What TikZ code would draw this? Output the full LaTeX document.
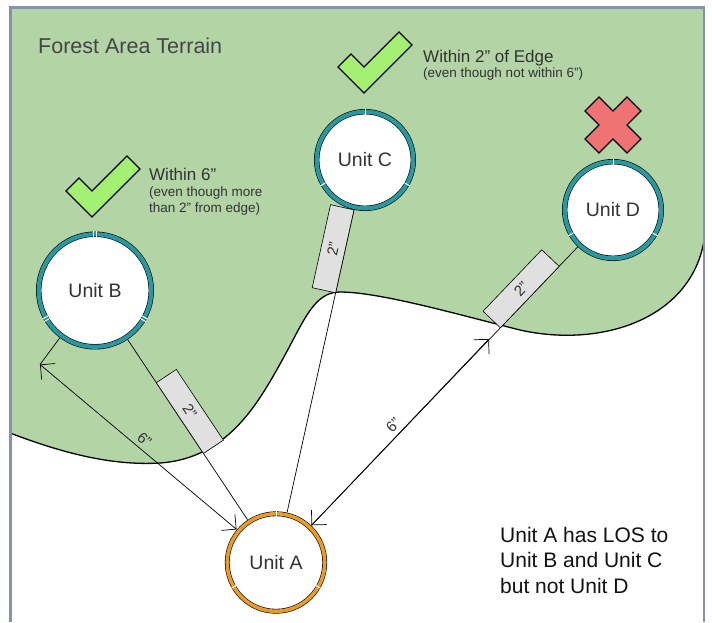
\documentclass[tikz,border=0pt]{standalone}
\usepackage{fontspec}
\setmainfont{Liberation Sans}
\usepackage{xcolor}
\usetikzlibrary{arrows.meta}

\definecolor{forest}{HTML}{B3D5A6}
\definecolor{ringteal}{HTML}{2A98A0}
\definecolor{ringorange}{HTML}{EB9B25}
\definecolor{checkgreen}{HTML}{A3F073}
\definecolor{crossred}{HTML}{F07373}
\definecolor{gaugegray}{HTML}{E0E0E0}
\definecolor{framegray}{HTML}{8592AB}
\definecolor{darktext}{HTML}{333333}

\tikzset{
  unit/.style={circle, draw=black, line width=0.6pt, double=ringteal, double distance=4.2pt,
    fill=white, outer sep=2.7pt, text=darktext, font=\fontsize{19.5}{23}\selectfont},
  los/.style={draw=black, line width=0.7pt},
  measure/.style={draw=black, line width=0.7pt, <->},
  dist/.style={midway, above, sloped, inner sep=4pt, text=darktext, font=\fontsize{15}{18}\selectfont},
  gauge/.style={draw=black, line width=0.6pt, fill=gaugegray, minimum width=85pt, minimum height=24pt,
    inner sep=0pt, outer sep=0pt, sloped, anchor=south, text=darktext, font=\fontsize{15}{18}\selectfont},
  tick/.style={draw=white, line width=1pt},
  verdict/.style={draw=black, line width=1.2pt, line join=miter},
  note/.style={anchor=base west, inner sep=0pt, text=darktext}
}

\begin{document}
\begin{tikzpicture}[x=1pt, y=-1pt, >={Straight Barb[length=10.5pt,width=21pt]}]
      \useasboundingbox (0,0) rectangle (712,622);
      \fill[white] (0,0) rectangle (712,622);
        % forest area
      \fill[forest] (10,7) -- (10,433) .. controls (60,452) and (110,466) .. (160,463)
        .. controls (230,458) and (260,400) .. (285,355) .. controls (305,318) and (315,292) .. (340,292)
        .. controls (380,292) and (460,315) .. (520,330) .. controls (600,348) and (690,320) .. (704,241)
        -- (704,7) -- cycle;
      \draw[line width=1.3pt] (10,433) .. controls (60,452) and (110,466) .. (160,463)
        .. controls (230,458) and (260,400) .. (285,355) .. controls (305,318) and (315,292) .. (340,292)
        .. controls (380,292) and (460,315) .. (520,330) .. controls (600,348) and (690,320) .. (704,241);
      \draw[framegray, line width=2.5pt] (10.5,622) -- (10.5,7.5) -- (704,7.5) -- (704,622);
        % units
      \node[unit, minimum size=97.5pt, double=ringorange, double distance=3.6pt] (A) at (276,562.5) {Unit A};
      \node[unit, minimum size=112.6pt] (B) at (95,290.5) {Unit B};
      \node[unit, minimum size=96.6pt] (C) at (365,160) {Unit C};
      \node[unit, minimum size=96.6pt] (D) at (613,210) {Unit D};
      \coordinate (tipB) at (40,364.5);
      \coordinate (tipD) at (489,339);
        % lines of sight
      \draw[los] (A) -- (B);
      \draw[los] (A) -- (C);
      \draw[los] (A) -- (D);
      \draw[los] (tipB) -- (B);
      \draw[measure] (A.140) -- node[dist] (sixB) {6”} (tipB);
      \draw[measure] (A) -- node[dist] (sixD) {6”} (tipD);
      \path (A.center) -- (B.center) node[gauge, pos=0.531] (twoB) {2”};
      \path (A.center) -- (C.center) node[gauge, pos=0.773] (twoC) {2”};
      \path (A.center) -- (D.center) node[gauge, pos=0.753] (twoD) {2”};
        % ring marks
      \draw[tick] (A.center) ++(-90:46) -- ++(-90:5.5);
      \draw[tick] (A.center) ++(150:46) -- ++(150:5.5);
      \draw[tick] (A.center) ++(30:46) -- ++(30:5.5);
      \draw[tick] (C.center) ++(-90:45.5) -- ++(-90:6);
      \draw[tick] (C.center) ++(150:45.5) -- ++(150:6);
      \draw[tick] (C.center) ++(30:45.5) -- ++(30:6);
      \draw[tick] (D.center) ++(-90:45.5) -- ++(-90:6);
      \draw[tick] (D.center) ++(150:45.5) -- ++(150:6);
      \draw[tick] (D.center) ++(30:45.5) -- ++(30:6);
      \draw[tick] (B.center) ++(-90:53.5) ++(0:1.5) -- ++(-90:6);
      \draw[tick] (B.center) ++(-90:53.5) ++(180:1.5) -- ++(-90:6);
      \draw[tick] (B.center) ++(150:53.5) ++(60:1.5) -- ++(150:6);
      \draw[tick] (B.center) ++(150:53.5) ++(240:1.5) -- ++(150:6);
      \draw[tick] (B.center) ++(30:53.5) ++(120:1.5) -- ++(30:6);
      \draw[tick] (B.center) ++(30:53.5) ++(-60:1.5) -- ++(30:6);
        % check marks and cross
      \draw[verdict, fill=checkgreen, shift={(92,217)}] (0,0) -- (-26,-26) -- (-13,-39) -- (0,-26) -- (35,-61) -- (48,-48) -- cycle;
      \draw[verdict, fill=checkgreen, shift={(364,93)}] (0,0) -- (-26,-26) -- (-13,-39) -- (0,-26) -- (35,-61) -- (48,-48) -- cycle;
      \draw[verdict, fill=crossred, shift={(613,125)}] (0,-14) -- (14,-28) -- (28,-14) -- (14,0) -- (28,14) -- (14,28)
        -- (0,14) -- (-14,28) -- (-28,14) -- (-14,0) -- (-28,-14) -- (-14,-28) -- cycle;
        % texts
      \node[note, text=black!73, font=\fontsize{21.5}{25}\selectfont] (title) at (38,53) {Forest Area Terrain};
      \node[note, font=\fontsize{17}{20}\selectfont] (noteB) at (149,180) {Within 6”};
      \node[note, font=\fontsize{13.5}{16}\selectfont] (noteB1) at (149,196.5) {(even though more};
      \node[note, font=\fontsize{13.5}{16}\selectfont] (noteB2) at (149,212) {than 2” from edge)};
      \node[note, font=\fontsize{17}{20}\selectfont] (noteC) at (423,62) {Within 2” of Edge};
      \node[note, font=\fontsize{13.5}{16}\selectfont] (noteC1) at (423,77.5) {(even though not within 6”)};
      \node[note, text=black!93, font=\fontsize{21}{25}\selectfont] (sum1) at (500,542) {Unit A has LOS to};
      \node[note, text=black!93, font=\fontsize{21}{25}\selectfont] (sum2) at (500,567) {Unit B and Unit C};
      \node[note, text=black!93, font=\fontsize{21}{25}\selectfont] (sum3) at (500,593) {but not Unit D};
\end{tikzpicture}
\end{document}
